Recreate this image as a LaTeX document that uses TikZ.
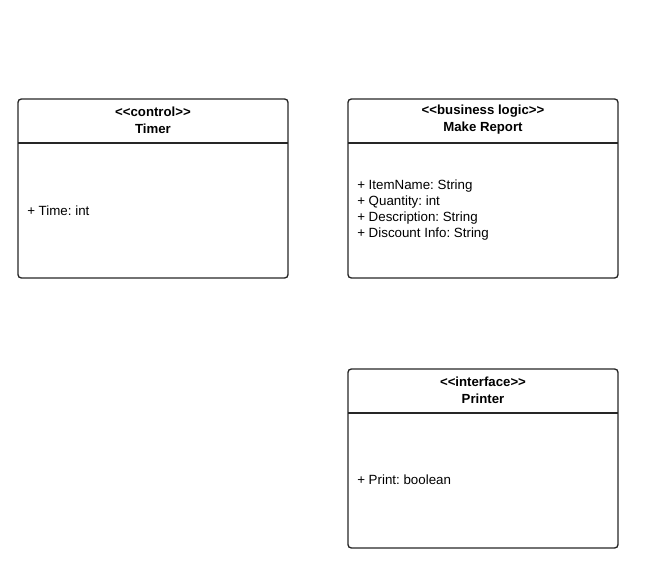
\documentclass[tikz,border=0pt]{standalone}
\usepackage{fontspec}
\setmainfont{Liberation Sans}[Ligatures=TeXOff]
\frenchspacing
\begin{document}
\begin{tikzpicture}[x=0.75pt,y=-0.75pt,
  classbox/.style={draw=black!85, line width=1pt, rounded corners=2.5pt},
  hdr/.style={align=center, font=\fontsize{9.9}{12.7}\selectfont\bfseries, inner sep=0pt},
  attrs/.style={align=left, anchor=west, font=\fontsize{10}{12.2}\selectfont, inner sep=0pt}]
\useasboundingbox (0,0) rectangle (651,578);
% Timer
\draw[classbox] (18,99) rectangle (288,278);
\draw[black!85, line width=1pt] (18,143) -- (288,143);
\node[hdr] (timerh) at (153,120) {<<control>>\\Timer};
\node[attrs] (timera) at (27,211) {+ Time: int};
% Make Report
\draw[classbox] (348,99) rectangle (618,278);
\draw[black!85, line width=1pt] (348,143) -- (618,143);
\node[hdr] (reph) at (483,120) {<<business logic>>\\Make Report};
\node[attrs] (repa) at (357,210) {+ ItemName: String\\+ Quantity: int\\+ Description: String\\+ Discount Info: String};
% Printer
\draw[classbox] (348,369) rectangle (618,548);
\draw[black!85, line width=1pt] (348,413) -- (618,413);
\node[hdr] (prih) at (483,390) {<<interface>>\\Printer};
\node[attrs] (pria) at (357,480) {+ Print: boolean};
\end{tikzpicture}
\end{document}
